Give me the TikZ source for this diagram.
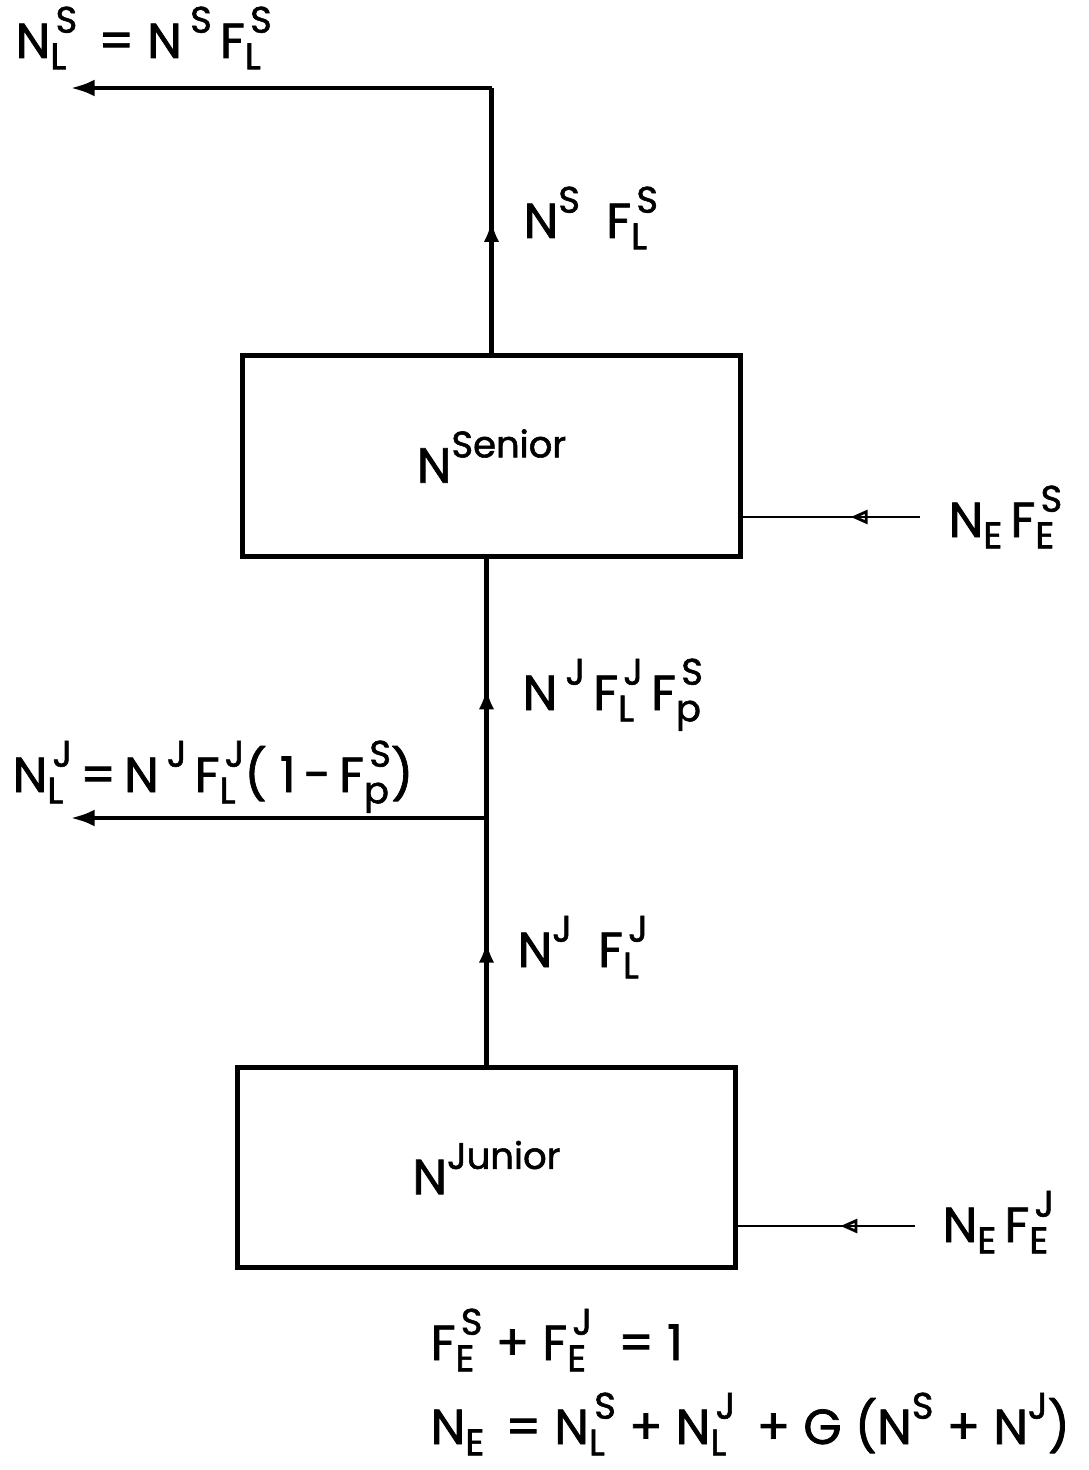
\documentclass[tikz,border=0pt]{standalone}
\usepackage{fontspec}
\setmainfont{Poppins}[FakeBold=1.5]
\usetikzlibrary{arrows.meta,decorations.markings}
\newcommand\bsz{\fontsize{14}{16}\selectfont}
\newcommand\ssz{\fontsize{10.5}{11}\selectfont}
\newcommand\SP[1]{\raisebox{7.2pt}{\ssz #1}}
\newcommand\SB[1]{\raisebox{-3.2pt}{\ssz #1}}
\newcommand\SBP[2]{\mbox{\rlap{\raisebox{-3.2pt}{\ssz #1}}\hspace{1.5pt}\raisebox{7.2pt}{\ssz #2}}}
\tikzset{
  flow/.style={line width=1.4pt},
  feed/.style={line width=0.8pt},
  box/.style={draw, line width=1.4pt, minimum width=4.97cm, minimum height=2.0cm, inner sep=0pt, font=\bsz},
  lbl/.style={anchor=base west, inner sep=0pt, font=\bsz},
  endtip/.style={-{Latex[length=7pt,width=4.8pt]}},
  midup/.style={postaction={decorate}, decoration={markings, mark=at position #1 with {\arrow{Latex[length=6pt,width=4.4pt]}}}},
  midin/.style={postaction={decorate}, decoration={markings, mark=at position #1 with {\arrow{Triangle[open,length=4.8pt,width=4pt,line width=0.8pt]}}}}
}
\begin{document}
\begin{tikzpicture}[x=0.01cm,y=-0.01cm]
\useasboundingbox (0,0) rectangle (1088,1470);
% boxes
\node[box] (senior) at (491.5,456) {N\SP{Senior}};
\node[box] (junior) at (486.5,1167.5) {N\SP{Junior}};
% coordinates
\coordinate (corner) at (senior.north |- 0,88);
\coordinate (outS) at (70,88);
\coordinate (branch) at (junior.north |- 0,818);
\coordinate (outJ) at (70,818);
\coordinate (inS) at (920,517);
\coordinate (inJ) at (915,1226);
% connectors
\draw[flow, midup=0.5] (senior.north) -- (corner);
\draw[flow, endtip] (corner) -- (outS);
\draw[flow, midup=0.5] (junior.north) -- (branch);
\draw[flow, midup=0.5] (branch) -- (branch |- senior.south);
\draw[flow, endtip] (branch) -- (outJ);
\draw[feed, midin=0.39] (inS) -- (inS -| senior.east);
\draw[feed, midin=0.42] (inJ) -- (inJ -| junior.east);
% labels
\node[lbl] (l1) at (15,58) {N\SBP{L}{S}\, = N\,\SP{S}\,F\SBP{L}{S}};
\node[lbl] (l2) at (523,238) {N\SP{S}\ \ F\SBP{L}{S}};
\node[lbl] (l3) at (948,537) {N\SB{E}\,F\SBP{E}{S}};
\node[lbl] (l4) at (522,710) {N\,\SP{J}\,F\SBP{L}{J}\,F\SBP{p}{S}};
\node[lbl] (l5) at (12,792) {N\SBP{L}{J}\,=\,N\,\SP{J}\,F\SBP{L}{J}( 1\,-\,F\SBP{p}{S})};
\node[lbl] (l6) at (517,967) {N\SP{J}\ \ F\SBP{L}{J}};
\node[lbl] (l7) at (942,1242) {N\SB{E}\,F\SBP{E}{J}};
\node[lbl] (l8) at (430,1360) {F\SBP{E}{S} + F\SBP{E}{J}\ \ = 1};
\node[lbl] (l9) at (430,1444) {N\SB{E}\, = N\SBP{L}{S} + N\SBP{L}{J}\, + G (N\SP{S} + N\SP{J})};
\end{tikzpicture}
\end{document}
